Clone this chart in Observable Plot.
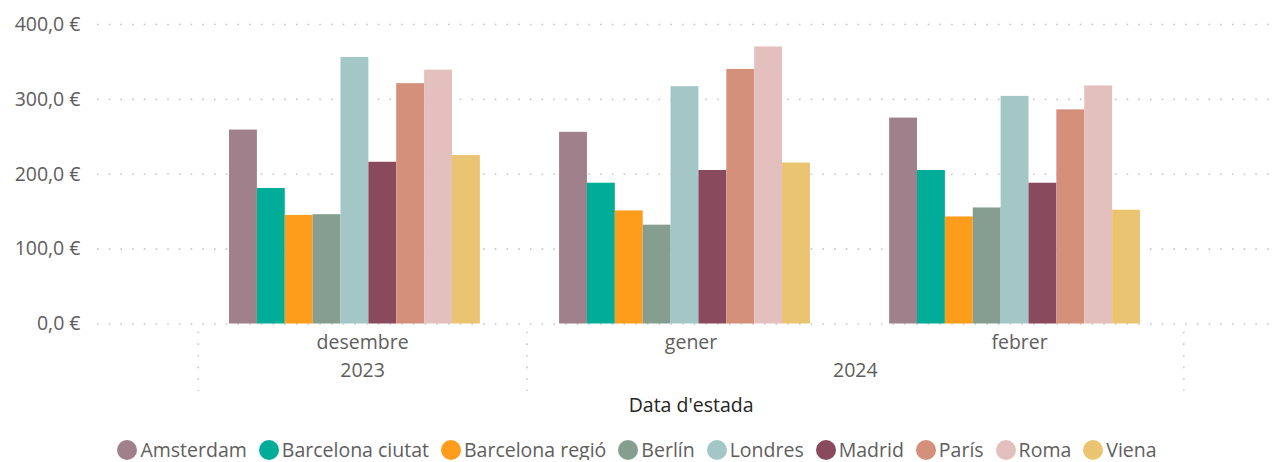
<!DOCTYPE html>
<html>
<head>
<meta charset="utf-8">
<script src="https://cdn.jsdelivr.net/npm/d3@7"></script>
<script src="https://cdn.jsdelivr.net/npm/@observablehq/plot@0.6"></script>
<style>
  html, body { margin: 0; padding: 0; background: #fff; }
  #wrap { position: relative; width: 1274px; height: 440px; }
  #wrap svg { position: absolute; left: 0; top: 0; }
  #legend { display: flex; justify-content: center; align-items: center; gap: 12px;
    font-family: "Open Sans", sans-serif; font-size: 19.5px; color: #605e5c;
    margin-top: 0px; height: 20px; line-height: 20px; white-space: nowrap; width: 1274px; }
  #legend .item { display: flex; align-items: center; }
  #legend .dot { width: 20px; height: 20px; border-radius: 50%; margin-right: 3px; }
</style>
</head>
<body>
<div id="wrap"></div>
<div id="legend"></div>
<script>
// ---- data ----
const months = ["desembre", "gener", "febrer"];
const monthYears = ["2023", "2024", "2024"];
const cities = ["Amsterdam", "Barcelona ciutat", "Barcelona regió", "Berlín", "Londres", "Madrid", "París", "Roma", "Viena"];
const cityColors = ["#A0808A", "#01AC98", "#FE9C1C", "#869E90", "#A3C7C7", "#8A4A5E", "#D4907A", "#E3C0BD", "#EBC472"];
const amsterdam       = [259, 256, 275];
const barcelonaCiutat = [181, 188, 205];
const barcelonaRegio  = [145, 151, 143];
const berlin          = [146, 132, 155];
const londres         = [356, 317, 304];
const madrid          = [216, 205, 188];
const paris           = [321, 340, 286];
const roma            = [339, 370, 318];
const viena           = [225, 215, 152];
const yTicks = [0, 100, 200, 300, 400];
const xTitle = "Data d'estada";

const seriesValues = [amsterdam, barcelonaCiutat, barcelonaRegio, berlin, londres, madrid, paris, roma, viena];
const data = [];
cities.forEach((c, ci) => months.forEach((m, mi) => data.push({city: c, month: m, value: seriesValues[ci][mi]})));

// year spans from month/year list
const yearSpans = [];
monthYears.forEach((y, i) => {
  const last = yearSpans[yearSpans.length - 1];
  if (last && last.year === y) last.end = i + 1;
  else yearSpans.push({year: y, start: i, end: i + 1});
});
const boundaries = [0, ...yearSpans.map(s => s.end)];

const W = 1274, H = 440, MT = 24, MB = 116.5, ML = 97, MR = 2;
const font = {fontFamily: "'Open Sans', sans-serif", fontSize: "19.5px"};
const fmt = d => d.toFixed(1).replace(".", ",") + " €";

// background: grid, y axis, category labels
const bg = Plot.plot({
  width: W, height: H, marginTop: MT, marginBottom: MB, marginLeft: ML, marginRight: MR,
  style: {...font, color: "#605e5c", background: "white"},
  x: {type: "linear", domain: [-0.307, months.length + 0.27], axis: null},
  y: {domain: [0, 400], axis: null},
  marks: [
    Plot.ruleY(yTicks, {stroke: "#c8c6c4", strokeWidth: 1.6, strokeDasharray: "1.6,10.1"}),
    Plot.axisY(yTicks, {tickFormat: fmt, tickSize: 0, tickPadding: 17, label: null, fill: "#605e5c"}),
    Plot.ruleX(boundaries, {x: d => d, y1: -11, y2: -90, stroke: "#c8c6c4", strokeWidth: 1.6, strokeDasharray: "1.6,10"}),
    Plot.text(months, {x: (d, i) => i + 0.5, frameAnchor: "bottom", dy: 24.5, fill: "#605e5c"}),
    Plot.text(yearSpans, {x: d => (d.start + d.end) / 2, text: "year", frameAnchor: "bottom", dy: 52.5, fill: "#605e5c"}),
    Plot.text([xTitle], {x: months.length / 2, frameAnchor: "bottom", dy: 87.5, fill: "#252423"})
  ]
});

// foreground: grouped bars
const fg = Plot.plot({
  width: W, height: H, marginTop: MT, marginBottom: MB, marginLeft: ML, marginRight: MR,
  style: {...font, background: "transparent"},
  fx: {domain: months, paddingInner: 0.24, paddingOuter: 0.4, round: false, axis: null, label: null},
  x: {domain: cities, padding: 0, round: false, axis: null},
  y: {domain: [0, 400], axis: null},
  color: {domain: cities, range: cityColors},
  marks: [
    Plot.barY(data, {fx: "month", x: "city", y: "value", fill: "city"})
  ]
});

const wrap = document.getElementById("wrap");
wrap.appendChild(bg);
wrap.appendChild(fg);

// legend
const legend = document.getElementById("legend");
cities.forEach((c, i) => {
  const it = document.createElement("div");
  it.className = "item";
  const dot = document.createElement("span");
  dot.className = "dot";
  dot.style.background = cityColors[i];
  const t = document.createElement("span");
  t.textContent = c;
  it.appendChild(dot); it.appendChild(t);
  legend.appendChild(it);
});
</script>
</body>
</html>
